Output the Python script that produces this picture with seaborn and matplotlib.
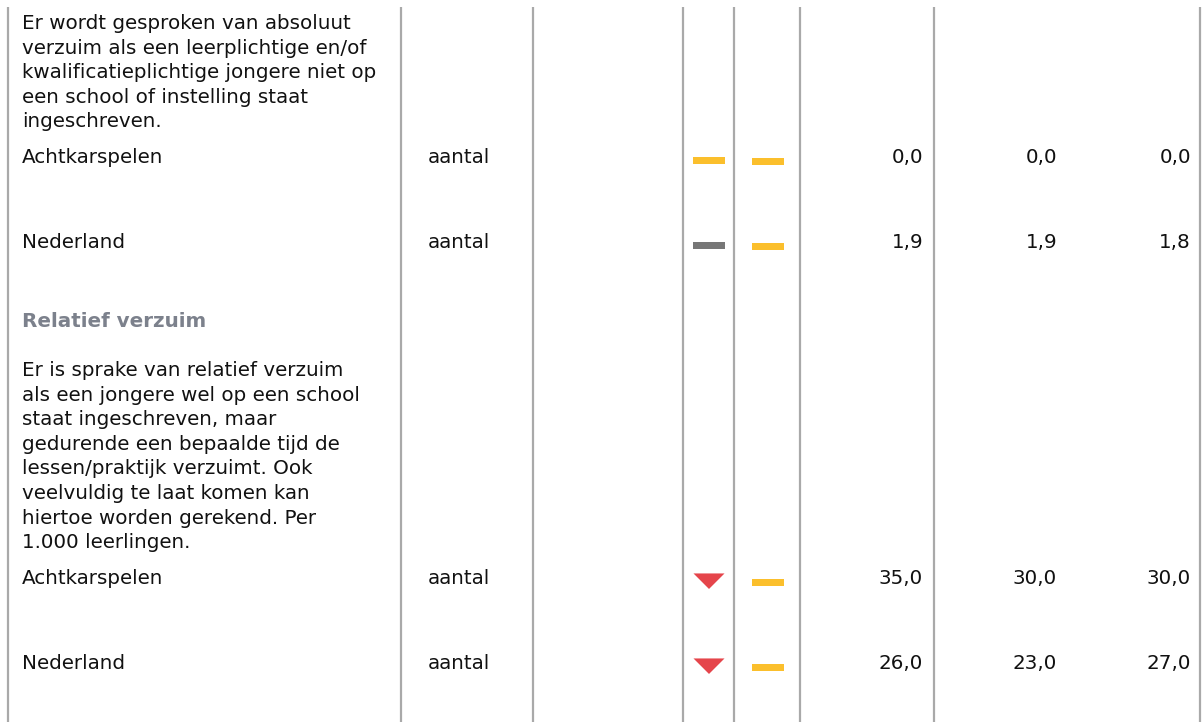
import numpy as np
import pandas as pd
import matplotlib
matplotlib.use("Agg")
import matplotlib.pyplot as plt
import seaborn as sns

# table content
sections = ["Absoluut verzuim", "Relatief verzuim"]
descriptions = [
    ["Er wordt gesproken van absoluut",
     "verzuim als een leerplichtige en/of",
     "kwalificatieplichtige jongere niet op",
     "een school of instelling staat",
     "ingeschreven."],
    ["Er is sprake van relatief verzuim",
     "als een jongere wel op een school",
     "staat ingeschreven, maar",
     "gedurende een bepaalde tijd de",
     "lessen/praktijk verzuimt. Ook",
     "veelvuldig te laat komen kan",
     "hiertoe worden gerekend. Per",
     "1.000 leerlingen."],
]
regions = ["Achtkarspelen", "Nederland"]
unit = "aantal"
trend_long = [["flat", "flat_grey"], ["down", "down"]]   # per section, per region
trend_short = [["flat", "flat"], ["flat", "flat"]]
values = [
    [[0.0, 0.0, 0.0], [1.9, 1.9, 1.8]],
    [[35.0, 30.0, 30.0], [26.0, 23.0, 27.0]],
]

# layout (pixels)
W, H = 1202, 727
col_lines = [8, 401, 533, 683, 734, 800, 934, 1200]
text_x = 22
unit_x = 428
trend_x = [709, 768]
value_x = [923, 1057, 1191]
line_h = 24.6
para_top = [29, 376]
title_y = 327
row_gap = 85
fs = 14.3

sns.set_theme(style="white")
plt.rcParams["font.family"] = ["DejaVu Sans"]

fig = plt.figure(figsize=(W / 100, H / 100), dpi=100)
ax = fig.add_axes([0, 0, 1, 1])

for x in col_lines:
    ax.plot([x, x], [7, 722], color="#a9a9a9", lw=1.6, solid_capstyle="butt")

rows = []
for s, desc in enumerate(descriptions):
    if s == 1:
        ax.text(text_x, title_y, sections[s], fontsize=fs, fontweight="bold",
                color="#7c818c", va="baseline", ha="left")
    for i, line in enumerate(desc):
        ax.text(text_x, para_top[s] + i * line_h, line, fontsize=fs,
                color="#111111", va="baseline", ha="left")
    first_row = para_top[s] + (len(desc) - 1) * line_h + 36
    for r, reg in enumerate(regions):
        y = first_row + r * row_gap
        ax.text(text_x, y, reg, fontsize=fs, color="#111111", va="baseline")
        ax.text(unit_x, y, unit, fontsize=fs, color="#111111", va="baseline")
        for v, vx in zip(values[s][r], value_x):
            ax.text(vx, y, f"{v:.1f}".replace(".", ","), fontsize=fs,
                    color="#111111", va="baseline", ha="right")
        rows.append({"x": trend_x[0], "y": y - 3, "trend": trend_long[s][r]})
        rows.append({"x": trend_x[1], "y": y - 2, "trend": trend_short[s][r]})

df = pd.DataFrame(rows)
dash = [(-1, -0.22), (1, -0.22), (1, 0.22), (-1, 0.22)]
tri = [(-1, 0.5), (1, 0.5), (0, -0.5)]  # marker paths live in display coords: apex down
palette = {"flat": "#fbbf2c", "flat_grey": "#777777", "down": "#e5454b"}
markers = {"flat": dash, "flat_grey": dash, "down": tri}
sns.scatterplot(data=df, x="x", y="y", hue="trend", style="trend",
                palette=palette, markers=markers, s=500, linewidth=0,
                legend=False, ax=ax)
ax.set_xlim(0, W)
ax.set_ylim(H, 0)
ax.axis("off")

fig.savefig("out.png", dpi=100)
